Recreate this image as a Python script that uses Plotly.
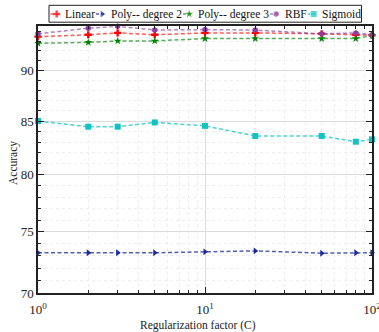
import plotly.graph_objects as go
import numpy as np

C = [1, 2, 3, 5, 10, 20, 50, 80, 100]
linear = [93.5, 93.7, 93.9, 93.7, 93.9, 93.9, 93.8, 93.7, 93.65]
poly2 = [73.25, 73.25, 73.25, 73.25, 73.33, 73.41, 73.22, 73.25, 73.25]
poly3 = [92.8, 92.9, 93.05, 93.05, 93.3, 93.3, 93.3, 93.3, 93.6]
rbf = [93.8, 94.4, 94.6, 94.2, 94.25, 94.2, 93.8, 93.9, 93.7]
sigmoid = [85.0, 84.46, 84.46, 84.87, 84.54, 83.58, 83.58, 83.04, 83.26]

names = ["Linear", "Poly-- degree 2", "Poly-- degree 3", "RBF", "Sigmoid"]
series = [linear, poly2, poly3, rbf, sigmoid]
colors = ["#ff0000", "#1a2a9a", "#008000", "#8a3fa0", "#10c4c4"]
line_colors = ["rgba(255,0,0,0.65)", "rgba(26,42,154,0.75)", "rgba(0,128,0,0.65)",
               "rgba(138,63,160,0.65)", "rgba(16,196,196,0.75)"]
symbols = ["cross", "triangle-right", "star", "hexagon", "square"]
x_ticks = [1, 10, 100]
x_ticktext = ["10<sup>0</sup>", "10<sup>1</sup>", "10<sup>2</sup>"]
y_ticks = [70, 75, 80, 85, 90]

# legend layout (pixel positions within the legend strip)
leg_sample_x0 = [50.5, 96.0, 183.0, 270.0, 307.5]
leg_text_x = [63.0, 109.0, 196.0, 283.0, 320.0]
leg_y = 14.0

font = "Liberation Serif, Times New Roman, serif"

fig = go.Figure()
for n, s, c, lc, sym in zip(names, series, colors, line_colors, symbols):
    fig.add_trace(go.Scatter(
        x=C, y=s, name=n, mode="lines+markers",
        line=dict(color=lc, width=1.5, dash="4px,2.5px"),
        marker=dict(color=c, symbol=sym, size=6, line=dict(width=0)),
        cliponaxis=False, showlegend=False,
    ))

# custom legend on helper axes
for n, c, lc, sym, sx, tx in zip(names, colors, line_colors, symbols, leg_sample_x0, leg_text_x):
    fig.add_trace(go.Scatter(
        x=[sx, sx + 4.5, sx + 6.2, sx + 10], y=[leg_y] * 4, mode="lines+markers",
        line=dict(color=lc, width=1.5, dash="3px,2px"),
        marker=dict(color=c, symbol=sym, size=[0, 0, 6, 0], line=dict(width=0)),
        xaxis="x2", yaxis="y2", showlegend=False, hoverinfo="skip", cliponaxis=False,
    ))
    fig.add_annotation(x=tx, y=leg_y, xref="x2", yref="y2", text=n, showarrow=False,
                       xanchor="left", yanchor="middle",
                       font=dict(family=font, size=11.5, color="#111"))

fig.add_shape(type="rect", xref="x2", yref="y2", x0=49, x1=361.5, y0=5.3, y1=22.2,
              line=dict(color="#222", width=1), fillcolor="rgba(0,0,0,0)")

# axis titles
fig.add_annotation(x=(197.5 - 38) / 334, y=(293 - 325) / 293, xref="paper", yref="paper",
                   text="Regularization factor (C)", showarrow=False,
                   xanchor="center", yanchor="middle",
                   font=dict(family=font, size=11.5, color="#222"))
fig.add_annotation(x=(13 - 38) / 334, y=(293 - 163) / 293, xref="paper", yref="paper",
                   text="Accuracy", showarrow=False, textangle=-90,
                   xanchor="center", yanchor="middle",
                   font=dict(family=font, size=11.5, color="#222"))

yminor = [v for v in range(70, 95) if v % 5 != 0]
xminor = [v * d for d in (1, 10) for v in range(2, 10)]

axis_common = dict(
    ticks="inside", ticklen=6, tickwidth=1, tickcolor="#222",
    showline=True, linecolor="#222", linewidth=1.5, mirror="ticks",
    showgrid=True, gridcolor="#dcdcdc", gridwidth=1,
    tickfont=dict(family=font, size=13, color="#222"),
    zeroline=False, automargin=False, ticklabeloverflow="allow",
)

fig.update_layout(
    width=379, height=332,
    margin=dict(l=38, r=7, t=0, b=39),
    paper_bgcolor="white", plot_bgcolor="white",
    font=dict(family=font, size=13, color="#222"),
    showlegend=False,
    xaxis=dict(
        domain=[0, 1], anchor="y",
        type="log", range=[0, 2],
        tickmode="array", tickvals=x_ticks, ticktext=x_ticktext,
        ticklabelstandoff=4,
        minor=dict(tickmode="array", tickvals=xminor, ticks="inside", ticklen=3, tickcolor="#222",
                   showgrid=True, gridcolor="#eeeeee", griddash="dot", gridwidth=1),
        **axis_common,
    ),
    yaxis=dict(
        domain=[0, (293.0 - 26.3) / 293.0], anchor="x",
        type="log", range=[np.log10(70), np.log10(94.6)],
        tickmode="array", tickvals=y_ticks, ticktext=[str(v) for v in y_ticks],
        minor=dict(tickmode="array", tickvals=yminor, ticks="inside", ticklen=3, tickcolor="#222",
                   showgrid=True, gridcolor="#eeeeee", griddash="dot", gridwidth=1),
        **axis_common,
    ),
    xaxis2=dict(domain=[0, 1], range=[38, 372], visible=False, anchor="y2", fixedrange=True),
    yaxis2=dict(domain=[(293.0 - 25.0) / 293.0, 1.0], range=[25.0, 0.0], visible=False,
                anchor="x2", fixedrange=True),
)
fig.write_html("out.html", config={"displayModeBar": False},
               post_script="document.body.style.margin='0px';")
